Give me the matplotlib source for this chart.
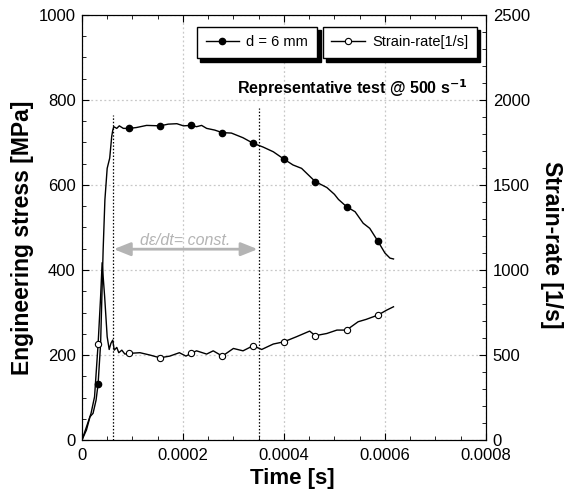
import numpy as np
import matplotlib
matplotlib.use("Agg")
import matplotlib.pyplot as plt
from matplotlib.ticker import MultipleLocator

plt.rcParams["font.family"] = ["Liberation Sans", "DejaVu Sans"]

# Engineering stress, d = 6 mm
t_stress = [0, 9e-6, 1.6e-5, 2.2e-5, 2.8e-5, 3.2e-5, 3.7e-5, 4.2e-5, 4.55e-5, 5.0e-5,
            5.5e-5, 5.9e-5, 6.1e-5, 6.3e-5, 6.9e-5, 7.4e-5, 8.2e-5, 9.4e-5, 1.08e-4,
            1.28e-4, 1.55e-4, 1.71e-4, 1.88e-4, 2.01e-4, 2.16e-4, 2.27e-4, 2.37e-4,
            2.47e-4, 2.63e-4, 2.78e-4, 2.96e-4, 3.19e-4, 3.39e-4, 3.59e-4, 3.79e-4,
            4.01e-4, 4.18e-4, 4.35e-4, 4.62e-4, 4.85e-4, 5.0e-4, 5.08e-4, 5.24e-4,
            5.41e-4, 5.57e-4, 5.70e-4, 5.86e-4, 6.0e-4, 6.1e-4, 6.17e-4]
stress = [0, 24, 55, 63, 94, 132, 227, 447, 565, 639,
          663, 714, 728, 737, 733, 739, 733, 733, 735,
          740, 739, 743, 744, 739, 740, 737, 740,
          733, 729, 723, 722, 711, 698, 689, 678,
          660, 647, 639, 608, 594, 578, 566, 549,
          537, 510, 498, 468, 440, 428, 426]
stress_marks = [3.2e-5, 9.4e-5, 1.55e-4, 2.16e-4, 2.78e-4, 3.39e-4, 4.01e-4, 4.62e-4, 5.24e-4, 5.86e-4]

# Strain-rate [1/s]
t_rate = [0, 9e-6, 1.8e-5, 2.5e-5, 3.2e-5, 3.7e-5, 4.0e-5, 4.5e-5, 5.0e-5, 5.4e-5,
          5.74e-5, 6.1e-5, 6.4e-5, 6.9e-5, 7.3e-5, 7.9e-5, 8.5e-5, 9.3e-5, 1.15e-4,
          1.35e-4, 1.545e-4, 1.74e-4, 1.93e-4, 2.06e-4, 2.16e-4, 2.27e-4, 2.47e-4,
          2.6e-4, 2.78e-4, 3.0e-4, 3.19e-4, 3.39e-4, 3.56e-4, 3.79e-4, 4.0e-4,
          4.25e-4, 4.51e-4, 4.62e-4, 4.85e-4, 5.05e-4, 5.24e-4, 5.47e-4, 5.63e-4,
          5.86e-4, 6.04e-4, 6.17e-4]
rate = [0, 78, 157, 255, 563, 843, 1043, 843, 608, 533,
        569, 588, 529, 545, 514, 529, 506, 510, 514,
        500, 484, 494, 514, 494, 510, 525, 506,
        525, 494, 539, 525, 555, 533, 565, 578,
        608, 641, 614, 627, 647, 647, 696, 710,
        735, 765, 784]
rate_marks = [3.2e-5, 9.3e-5, 1.545e-4, 2.16e-4, 2.78e-4, 3.39e-4, 4.0e-4, 4.62e-4, 5.24e-4, 5.86e-4]

# limits of the constant strain-rate zone
t_const = [6.1e-5, 3.5e-4]
const_top = [765, 780]


def mark_index(t, marks):
    return [int(np.argmin(np.abs(np.array(t) - m))) for m in marks]


fig = plt.figure(figsize=(5.65, 4.94), dpi=100)
ax = fig.add_axes([0.145, 0.109, 0.715, 0.861])
ax2 = ax.twinx()

ax.plot(t_stress, stress, color="black", lw=1.0, marker="o", ms=4.5,
        markevery=mark_index(t_stress, stress_marks), mfc="black", mec="black")
ax2.plot(t_rate, rate, color="black", lw=1.0, marker="o", ms=4.5,
         markevery=mark_index(t_rate, rate_marks), mfc="white", mec="black", mew=0.8)

for tc, top in zip(t_const, const_top):
    ax.plot([tc, tc], [0, top], color="black", lw=0.9, ls=(0, (1.2, 1.5)))

ax.annotate("", xy=(t_const[0] + 2e-6, 449), xytext=(t_const[1] - 2e-6, 449),
            arrowprops=dict(arrowstyle="<|-|>,head_length=1.0,head_width=0.4",
                            color="#b4b4b4", lw=2.0, shrinkA=0, shrinkB=0))
ax.text(2.05e-4, 469, "d\u03b5/dt= const.", color="#b4b4b4", fontsize=11.5,
        style="italic", ha="center", va="center")

ax.text(7.64e-4, 828, "Representative test @ 500 s$^{\\mathbf{-1}}$", fontsize=11.5,
        fontweight="bold", ha="right", va="center")

ax.set_xlim(0, 0.0008)
ax.set_ylim(0, 1000)
ax2.set_ylim(0, 2500)

ax.xaxis.set_major_locator(MultipleLocator(0.0002))
ax.xaxis.set_minor_locator(MultipleLocator(0.00005))
ax.yaxis.set_major_locator(MultipleLocator(200))
ax.yaxis.set_minor_locator(MultipleLocator(50))
ax2.yaxis.set_major_locator(MultipleLocator(500))
ax2.yaxis.set_minor_locator(MultipleLocator(100))
ax.set_xticks([0, 0.0002, 0.0004, 0.0006, 0.0008])
ax.set_xticklabels(["0", "0.0002", "0.0004", "0.0006", "0.0008"])

ax.tick_params(axis="x", which="both", direction="in", top=True, labelsize=12, pad=6)
ax.tick_params(axis="y", which="both", direction="in", right=False, labelsize=12, pad=4.5)
ax2.tick_params(axis="y", which="both", direction="in", labelsize=12, pad=5)
ax.tick_params(which="major", length=5)
ax.tick_params(which="minor", length=3)
ax2.tick_params(which="major", length=5)
ax2.tick_params(which="minor", length=3)

ax.grid(True, which="major", color="#c8c8c8", ls=(0, (1.5, 2)), lw=0.9)

ax.set_xlabel("Time [s]", fontsize=16, fontweight="bold", va="center", ha="center")
ax.xaxis.set_label_coords(0.522, -0.089)
ax.set_ylabel("Engineering stress [MPa]", fontsize=16.5, fontweight="bold", va="center", ha="center")
ax.yaxis.set_label_coords(-0.148, 0.475)
ax2.set_ylabel("Strain-rate [1/s]", fontsize=16.5, fontweight="bold", rotation=270,
               va="center", ha="center")
ax2.yaxis.set_label_coords(1.163, 0.46)

h1 = plt.Line2D([], [], color="black", lw=1.0, marker="o", ms=4.5, mfc="black")
h2 = plt.Line2D([], [], color="black", lw=1.0, marker="o", ms=4.5, mfc="white", mew=0.8)
shadow = {"ox": 2.5, "oy": -2.5, "color": "black", "alpha": 1.0}
leg_kw = dict(loc="upper right", borderaxespad=0, fancybox=False, shadow=shadow,
              framealpha=1, edgecolor="black", fontsize=10.5, handlelength=2.3,
              handletextpad=0.5, borderpad=0.6)
leg1 = ax2.legend([h1], ["d = 6 mm"], bbox_to_anchor=(0.582, 0.972), **leg_kw)
leg1.get_frame().set_linewidth(1.0)
ax2.add_artist(leg1)
leg2 = ax2.legend([h2], ["Strain-rate[1/s]"], bbox_to_anchor=(0.978, 0.972), **leg_kw)
leg2.get_frame().set_linewidth(1.0)

fig.savefig("out.png", dpi=100)
